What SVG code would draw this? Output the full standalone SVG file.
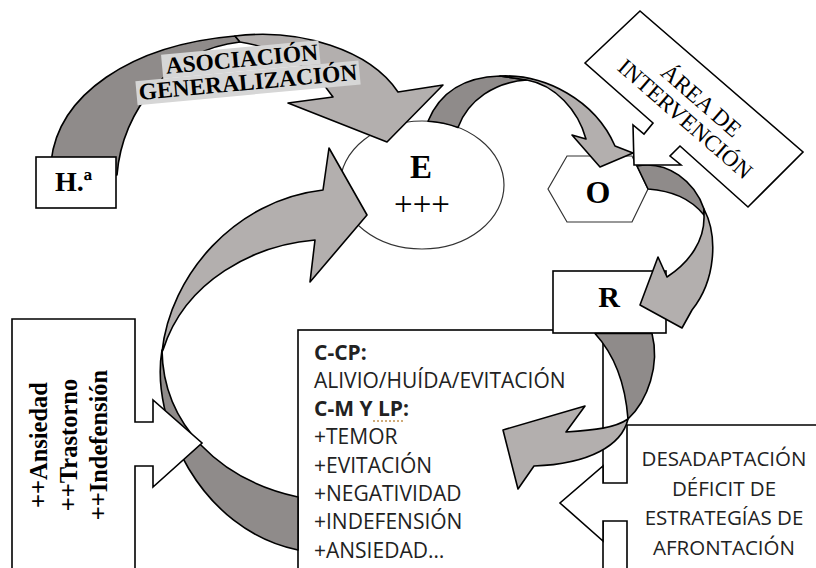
<svg xmlns="http://www.w3.org/2000/svg" width="816" height="568" viewBox="0 0 816 568">
<style>
.box{fill:#fff;stroke:#000;stroke-width:1.6}
.dk{fill:#8f8b8a;stroke:#000;stroke-width:1.6;stroke-linejoin:round}
.lt{fill:#b3afae;stroke:#000;stroke-width:1.6;stroke-linejoin:round}
.serif{font-family:"Liberation Serif","Times New Roman",serif;fill:#000}
.b{font-weight:bold}
.sans{font-family:"Open Sans","Liberation Sans",sans-serif;font-size:21px;fill:#222}
.ds{font-family:"Open Sans","Liberation Sans",sans-serif;font-size:20.5px;fill:#222;text-anchor:middle}
.lab{fill:#d6d6d6}
</style>
<rect width="816" height="568" fill="#fff"/>

<g id="node-E">
<ellipse cx="422" cy="185" rx="82" ry="64" fill="#fff" stroke="#333" stroke-width="1.2"/>
<text x="421" y="178" class="serif b" font-size="33" text-anchor="middle">E</text>
<text x="422" y="215" class="serif" font-size="33" text-anchor="middle">+++</text>
</g>

<g id="node-O">
<polygon points="548,189 567,156 632,156 648,189 632,222 567,222" fill="#fff" stroke="#333" stroke-width="1.2"/>
<text x="598" y="203" class="serif b" font-size="32" text-anchor="middle">O</text>
</g>

<g id="node-C">
<rect x="298" y="330" width="305" height="300" class="box"/>
<text class="sans b" x="314" y="359.5">C-CP:</text>
<text class="sans" x="314" y="387.8">ALIVIO/HUÍDA/EVITACIÓN</text>
<text class="sans b" x="314" y="416.1">C-M Y LP:</text>
<line x1="373" y1="421" x2="403" y2="421" stroke="#c0904d" stroke-width="1.5" stroke-dasharray="2,2"/>
<text class="sans" x="314" y="444.4">+TEMOR</text>
<text class="sans" x="314" y="472.7">+EVITACIÓN</text>
<text class="sans" x="314" y="501">+NEGATIVIDAD</text>
<text class="sans" x="314" y="529.3">+INDEFENSIÓN</text>
<text class="sans" x="314" y="557.6">+ANSIEDAD…</text>
</g>

<g id="node-R">
<rect x="553" y="271" width="113" height="62" class="box" stroke-width="1.3"/>
<text x="609" y="307" class="serif b" font-size="30" text-anchor="middle">R</text>
</g>

<g id="connectors">
<path class="dk" d="M51,162 C58,95 130,45 235,36 L240,42 C170,50 122,110 117,175 L100,175 Z"/>
<path class="lt" d="M235,36 C300,28 370,50 398,92 L443,85 L387,142 L288,103 L333,97 C315,70 280,48 240,42 Z"/>
<path class="dk" d="M428,121.2 C440,92 465,77 500,76 L527,80 C495,82 468,100 458,127.5 A82,64 0 0 0 428,121.2 Z"/>
<path class="lt" d="M500,76 C545,74 595,100 615,146 L633,153 L600,167 L572,135 L586,139 C578,110 555,85 527,80 Z"/>
<path class="dk" d="M637,166 C668,160 695,182 704,209 L704,215 C690,198 672,191 648,189 Z"/>
<path class="lt" d="M704,209 C718,236 716,280 692,310 L682,328 L640,305 L658,257 L667,277 C690,262 705,240 704,215 Z"/>
<path class="dk" d="M595,333.5 C612,352 625,380 628,419 C648,400 660,365 652,333.5 Z"/>
<path class="lt" d="M628,419 C622,445 590,464 534,466 L518,489 L503,430 L585,406 L566,432 C595,430 615,428 628,419 Z"/>
<path class="dk" d="M162,350 C150,420 200,530 298,550 L298,497 C220,480 163,425 162,350 Z"/>
<path class="lt" d="M162,352 C170,275 235,200 323,190 L329,148 L367,215 L310,282 L315,240 C255,245 185,280 163,350 Z"/>
<g transform="rotate(-5.3 246 72)">
<rect class="lab" x="163" y="47" width="158" height="24"/>
<rect class="lab" x="135" y="71" width="224" height="24"/>
<text x="243" y="66.5" class="serif b" font-size="23.5" text-anchor="middle">ASOCIACIÓN</text>
<text x="247" y="90" class="serif b" font-size="23.5" text-anchor="middle">GENERALIZACIÓN</text>
</g>
</g>

<g id="node-H">
<rect x="36" y="157" width="80" height="51" class="box"/>
<text x="55" y="191" class="serif b" font-size="28">H.ª</text>
</g>

<g id="node-area">
<polygon class="box" stroke-width="1.8" points="585,63 640,11 803,152 748,207 680,146 670,156 681,165 634,165 633,125 644,134 653,123"/>
<g transform="translate(694,109) rotate(41)">
<text x="0" y="-3.5" class="serif" font-size="23" text-anchor="middle">ÁREA DE</text>
<text x="0" y="21" class="serif" font-size="23" text-anchor="middle">INTERVENCIÓN</text>
</g>
</g>

<g id="node-ansiedad">
<polygon class="box" stroke-width="1.8" points="12,319 135,319 135,422 153,422 153,400 202,443 153,487 153,466 135,466 135,600 12,600"/>
<text transform="translate(47,445) rotate(-90)" class="serif b" font-size="24.5" text-anchor="middle">++Ansiedad</text>
<text transform="translate(77,445) rotate(-90)" class="serif b" font-size="24.5" text-anchor="middle">++Trastorno</text>
<text transform="translate(107,445) rotate(-90)" class="serif b" font-size="24.5" text-anchor="middle">++Indefensión</text>
</g>

<g id="node-desadaptacion">
<polygon class="box" stroke-width="1.8" points="627,425 830,425 830,600 627,600 627,521 603,521 603,541 560,503 603,466 603,483 627,483"/>
<text class="ds" x="724" y="466">DESADAPTACIÓN</text>
<text class="ds" x="724" y="495.5">DÉFICIT DE</text>
<text class="ds" x="724" y="525">ESTRATEGÍAS DE</text>
<text class="ds" x="724" y="554.5">AFRONTACIÓN</text>
</g>
</svg>
